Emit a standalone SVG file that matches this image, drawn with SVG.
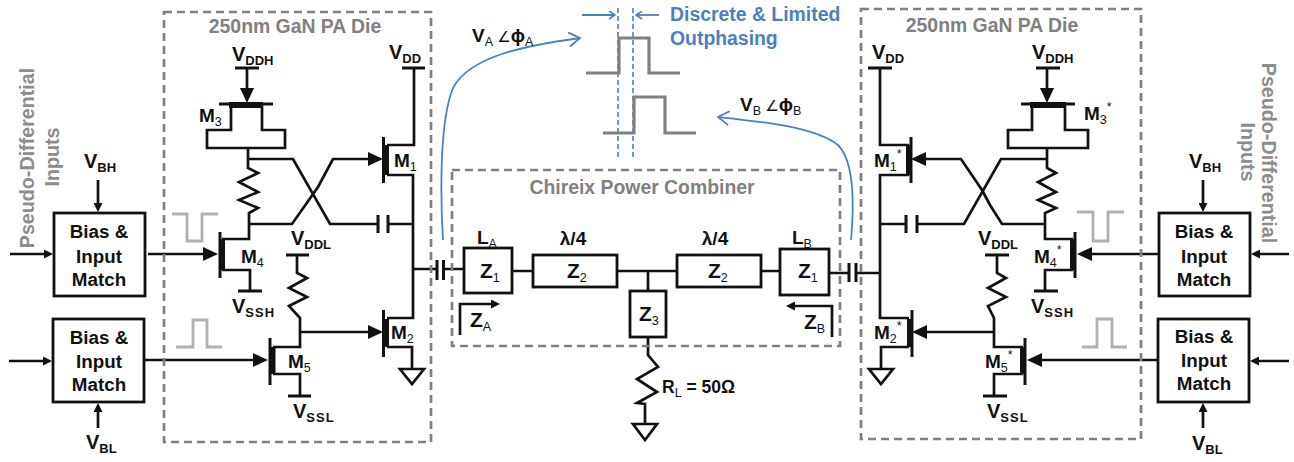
<svg xmlns="http://www.w3.org/2000/svg" width="1294" height="462" viewBox="0 0 1294 462">
<style>
text{font-family:"Liberation Sans","DejaVu Sans",sans-serif;font-weight:700;fill:#111}
.w{fill:none;stroke:#111;stroke-width:2.7;stroke-linejoin:miter}
.box{fill:#fff;stroke:#111;stroke-width:2.8}
.thin{fill:none;stroke:#111;stroke-width:3}
.thick{fill:none;stroke:#111;stroke-width:6}
.die{fill:none;stroke:#808080;stroke-width:2.7;stroke-dasharray:8 5}
.pulse{fill:none;stroke:#808080;stroke-width:3.2}
.soft{fill:none;stroke:#b0b0b0;stroke-width:2.8}
.blue{fill:none;stroke:#4a80c0;stroke-width:1.8}
.dash{fill:none;stroke:#4a80c0;stroke-width:1.6;stroke-dasharray:5 3}
.title{font-size:19.400px;fill:#808080;text-anchor:middle}
.side{font-size:19.700px;fill:#8c8c8c;text-anchor:middle}
.blk{font-size:18.800px;text-anchor:middle}
.v{font-size:20px}
.m{font-size:19px}
.z{font-size:21px}
.s{font-size:12.500px;font-weight:400}
.s2{font-size:13px}
.bl{font-size:19.400px;fill:#4a80c0}
</style>
<defs>
<marker id="g" markerUnits="userSpaceOnUse" markerWidth="15" markerHeight="14" refX="8" refY="7" orient="auto"><path d="M0,0L15,7L0,14z" fill="#111"/></marker>
<marker id="sm" markerUnits="userSpaceOnUse" markerWidth="9" markerHeight="9" refX="5" refY="4.5" orient="auto"><path d="M0,0L9,4.5L0,9z" fill="#111"/></marker>
<marker id="ob" markerUnits="userSpaceOnUse" markerWidth="14" markerHeight="16" refX="12" refY="8" orient="auto"><path d="M1,1L12,8L1,15" fill="none" stroke="#4a80c0" stroke-width="1.8"/></marker>
<marker id="sb" markerUnits="userSpaceOnUse" markerWidth="8" markerHeight="9" refX="7" refY="4.5" orient="auto"><path d="M1,0.5L7,4.5L1,8.5" fill="none" stroke="#4a80c0" stroke-width="1.6"/></marker>
</defs>

<g id="connectors">
<path class="w" d="M247,68V96" marker-end="url(#g)"/>
<path class="w" d="M231,106V130H207V148H285V130H262V106"/>
<path class="w" d="M248,148V168L258,173L239,182L258,192L239,200L258,208L249,213V239H222"/>
<path class="w" d="M248,159H293L330,224H378M387,224H413"/>
<path class="w" d="M250,224H292L318,187L333,159H376" marker-end="url(#g)"/>
<path class="w" d="M387,145H414V68M387,175H413V318H387M387,347H412V369"/>
<path class="w" d="M148,254H211" marker-end="url(#g)"/>
<path class="w" d="M222,270H250V291"/>
<path class="w" d="M297,255V273L307,278L289,288L307,297L289,306L300,318V347H273M273,374H300V396"/>
<path class="w" d="M301,332H376" marker-end="url(#g)"/>
<path class="w" d="M144,360H261" marker-end="url(#g)"/>
<path class="w" d="M10,254H49" marker-end="url(#sm)"/>
<path class="w" d="M9,361H48" marker-end="url(#sm)"/>
<path class="w" d="M98,180V208" marker-end="url(#sm)"/>
<path class="w" d="M98,428V407" marker-end="url(#sm)"/>
<path class="w" d="M413,269H436M443,269H464M512,271H533M617,271H677M761,271H780M829,273H849M856,273H880M648,271V291M648,337V355L658,367L637,379L657,392L637,403L645,404V424"/>
<path class="w" d="M460,335V304H496" marker-end="url(#sm)"/>
<path class="w" d="M832,337V306H790" marker-end="url(#sm)"/>
<path class="w" d="M880,68V145H909M909,175H880V318H909M909,347H881V369"/>
<path class="w" d="M1047,68V96" marker-end="url(#g)"/>
<path class="w" d="M1032,106V130H1008V148H1088V130H1065V106"/>
<path class="w" d="M1047,148V168L1056,173L1038,182L1056,192L1038,200L1056,208L1045,213V239H1073"/>
<path class="w" d="M1046,159H1001L964,224H917M906,224H880"/>
<path class="w" d="M1045,224H1002L990,205L982,190L961,159H918" marker-end="url(#g)"/>
<path class="w" d="M1073,270H1045V291"/>
<path class="w" d="M1158,254H1084" marker-end="url(#g)"/>
<path class="w" d="M997,255V273L1006,278L988,288L1006,297L988,306L994,318V347H1023M1023,374H994V396"/>
<path class="w" d="M994,332H919" marker-end="url(#g)"/>
<path class="w" d="M1158,360H1034" marker-end="url(#g)"/>
<path class="w" d="M1289,254H1255" marker-end="url(#sm)"/>
<path class="w" d="M1289,361H1254" marker-end="url(#sm)"/>
<path class="w" d="M1203,180V208" marker-end="url(#sm)"/>
<path class="w" d="M1203,428V407" marker-end="url(#sm)"/>
<path class="thin" d="M378,215V233M388,215V233M437,260V280M443.500,260V280M849,263V282M856,263V282M906,215V233M917,215V233"/>
<path class="thin" d="M235,68H259M402,68H425M238,291H262M286,255H309M288,396H311M868,68H892M1036,68H1060M1034,291H1058M985,255H1009M983,396H1007"/>
<path class="w" d="M400,369H424L412,384zM633,424H657L645,440zM869,369H893L881,384z"/>
<path class="blue" d="M443,240C440,190 440,120 453,88C470,55 530,45 580,38" marker-end="url(#ob)"/>
<path class="blue" d="M851,240C855,195 853,160 838,145C815,127 765,122 718,117" marker-end="url(#ob)"/>
<path class="blue" d="M582,15H615" marker-end="url(#sb)"/>
<path class="blue" d="M659,15H636" marker-end="url(#sb)"/>
<path class="dash" d="M618,8V157M633,8V157"/>
</g>

<g id="die-left"><rect class="die" x="164" y="12" width="267" height="430"/><text class="title" x="295" y="33">250nm GaN PA Die</text></g>
<g id="die-right"><rect class="die" x="861" y="9" width="280" height="430"/><text class="title" x="992" y="32">250nm GaN PA Die</text></g>
<g id="combiner-box"><rect class="die" x="452" y="170" width="388" height="176"/><text class="title" x="642" y="194">Chireix Power Combiner</text></g>

<g id="M1"><path class="thin" d="M383.500,137V183"/><path class="thick" d="M386,145V175"/><text class="m" x="394" y="167">M<tspan class="s" dy="4">1</tspan></text></g>
<g id="M2"><path class="thin" d="M383.500,310V357"/><path class="thick" d="M386,319V347"/><text class="m" x="391" y="339">M<tspan class="s" dy="4">2</tspan></text></g>
<g id="M3"><path class="thin" d="M219,104H273"/><path class="thick" d="M229,105H263"/><text class="m" x="199" y="122">M<tspan class="s" dy="4">3</tspan></text></g>
<g id="M4"><path class="thin" d="M220,232V278"/><path class="thick" d="M222,239V270"/><text class="m" x="241" y="263">M<tspan class="s" dy="4">4</tspan></text></g>
<g id="M5"><path class="thin" d="M270,338V385"/><path class="thick" d="M272.500,347V374"/><text class="m" x="288" y="368">M<tspan class="s" dy="4">5</tspan></text></g>
<g id="M1s"><path class="thin" d="M911,137V183"/><path class="thick" d="M909,145V175"/><text class="m" x="874" y="167">M<tspan class="s" dy="4">1</tspan><tspan class="s" dy="-13">*</tspan></text></g>
<g id="M2s"><path class="thin" d="M912,310V357"/><path class="thick" d="M910,319V347"/><text class="m" x="874" y="339">M<tspan class="s" dy="4">2</tspan><tspan class="s" dy="-13">*</tspan></text></g>
<g id="M3s"><path class="thin" d="M1021,104H1075"/><path class="thick" d="M1030,105H1066"/><text class="m" x="1084" y="120">M<tspan class="s" dy="4">3</tspan><tspan class="s" dy="-13">*</tspan></text></g>
<g id="M4s"><path class="thin" d="M1075,232V278"/><path class="thick" d="M1073,239V270"/><text class="m" x="1034" y="263">M<tspan class="s" dy="4">4</tspan><tspan class="s" dy="-13">*</tspan></text></g>
<g id="M5s"><path class="thin" d="M1025,338V385"/><path class="thick" d="M1023,347V374"/><text class="m" x="985" y="368">M<tspan class="s" dy="4">5</tspan><tspan class="s" dy="-13">*</tspan></text></g>

<g id="bias-1"><rect class="box" x="54" y="213" width="91" height="83"/><text class="blk" x="99" y="238">Bias &amp;</text><text class="blk" x="99" y="263">Input</text><text class="blk" x="99" y="286">Match</text></g>
<g id="bias-2"><rect class="box" x="53" y="319" width="91" height="83"/><text class="blk" x="99" y="344">Bias &amp;</text><text class="blk" x="99" y="368">Input</text><text class="blk" x="99" y="391">Match</text></g>
<g id="bias-3"><rect class="box" x="1159" y="213" width="91" height="83"/><text class="blk" x="1204" y="238">Bias &amp;</text><text class="blk" x="1204" y="263">Input</text><text class="blk" x="1204" y="286">Match</text></g>
<g id="bias-4"><rect class="box" x="1158" y="319" width="91" height="83"/><text class="blk" x="1204" y="343">Bias &amp;</text><text class="blk" x="1204" y="367">Input</text><text class="blk" x="1204" y="390">Match</text></g>

<g id="Z1-left"><rect class="box" x="464" y="248" width="48" height="45"/><text class="z" x="480" y="278">Z<tspan class="s" dy="4">1</tspan></text></g>
<g id="Z2-left"><rect class="box" x="533" y="255" width="84" height="32"/><text class="z" x="567" y="278">Z<tspan class="s" dy="4">2</tspan></text></g>
<g id="Z2-right"><rect class="box" x="677" y="255" width="84" height="32"/><text class="z" x="708" y="278">Z<tspan class="s" dy="4">2</tspan></text></g>
<g id="Z1-right"><rect class="box" x="780" y="249" width="49" height="46"/><text class="z" x="798" y="278">Z<tspan class="s" dy="4">1</tspan></text></g>
<g id="Z3"><rect class="box" x="630" y="291" width="36" height="46"/><text class="z" x="639" y="321">Z<tspan class="s" dy="4">3</tspan></text></g>

<g id="labels">
<text class="v" x="232" y="61">V<tspan class="s2" dy="4">DDH</tspan></text>
<text class="v" x="389" y="59">V<tspan class="s2" dy="4">DD</tspan></text>
<text class="v" x="84" y="168">V<tspan class="s2" dy="4">BH</tspan></text>
<text class="v" x="86" y="449">V<tspan class="s2" dy="4">BL</tspan></text>
<text class="v" x="291" y="245">V<tspan class="s2" dy="4">DDL</tspan></text>
<text class="v" x="232" y="313">V<tspan class="s2" dy="4" letter-spacing="1">SSH</tspan></text>
<text class="v" x="293" y="418">V<tspan class="s2" dy="4" letter-spacing="1">SSL</tspan></text>
<text class="v" x="872" y="59">V<tspan class="s2" dy="4">DD</tspan></text>
<text class="v" x="1032" y="59">V<tspan class="s2" dy="4">DDH</tspan></text>
<text class="v" x="1189" y="168">V<tspan class="s2" dy="4">BH</tspan></text>
<text class="v" x="1192" y="450">V<tspan class="s2" dy="4">BL</tspan></text>
<text class="v" x="978" y="245">V<tspan class="s2" dy="4">DDL</tspan></text>
<text class="v" x="1031" y="313">V<tspan class="s2" dy="4" letter-spacing="1">SSH</tspan></text>
<text class="v" x="987" y="418">V<tspan class="s2" dy="4" letter-spacing="1">SSL</tspan></text>
<text class="m" x="472" y="42" font-size="18">V<tspan class="s" dy="4">A</tspan><tspan dy="-4" font-size="15" font-weight="400"> ∠</tspan><tspan>ϕ</tspan><tspan class="s" dy="4">A</tspan></text>
<text class="m" x="740" y="111" font-size="18">V<tspan class="s" dy="4">B</tspan><tspan dy="-4" font-size="15" font-weight="400"> ∠</tspan><tspan>ϕ</tspan><tspan class="s" dy="4">B</tspan></text>
<text class="bl" x="670" y="21">Discrete &amp; Limited</text>
<text class="bl" x="670" y="45">Outphasing</text>
<text class="m" x="477" y="244">L<tspan class="s" dy="4">A</tspan></text>
<text class="m" x="792" y="244">L<tspan class="s" dy="4">B</tspan></text>
<text class="m" x="573" y="245" text-anchor="middle">λ/4</text>
<text class="m" x="715" y="245" text-anchor="middle">λ/4</text>
<text class="z" x="470" y="327">Z<tspan class="s" dy="4">A</tspan></text>
<text class="z" x="804" y="329">Z<tspan class="s" dy="4">B</tspan></text>
<text x="662" y="393" font-size="17.500">R<tspan class="s" dy="4">L</tspan><tspan dy="-4"> = 50Ω</tspan></text>
<text class="side" transform="translate(34,158) rotate(-90)">Pseudo-Differential</text>
<text class="side" transform="translate(59,157) rotate(-90)">Inputs</text>
<text class="side" transform="translate(1262,153) rotate(90)">Pseudo-Differential</text>
<text class="side" transform="translate(1241,152) rotate(90)">Inputs</text>
</g>

<g id="waveforms">
<path class="soft" d="M172,214H187V241H202V214H218"/>
<path class="soft" d="M176,347H193V320H207V347H222"/>
<path class="soft" d="M1077,212H1093V241H1108V212H1124"/>
<path class="soft" d="M1082,347H1097V319H1112V347H1127"/>
<path class="pulse" d="M586,73H619V38H649V73H680"/>
<path class="pulse" d="M603,133H634V97H665V133H696"/>
</g>
</svg>
